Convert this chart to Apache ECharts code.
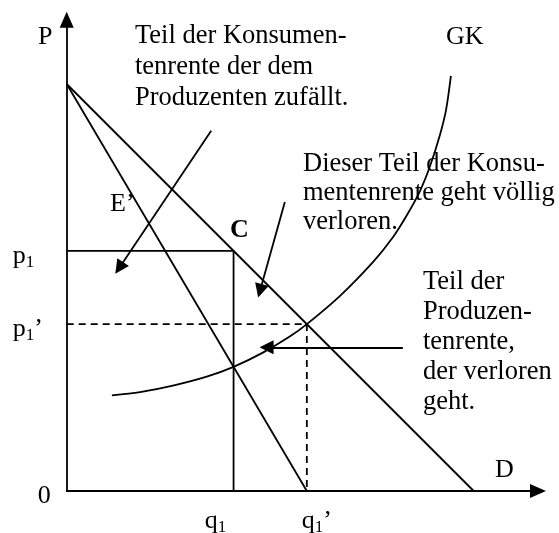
<!DOCTYPE html>
<html>
<head>
<meta charset="utf-8">
<script src="https://cdn.jsdelivr.net/npm/echarts@6/dist/echarts.min.js"></script>
<style>
  html, body { margin: 0; padding: 0; background: #fff; }
  #chart { width: 559px; height: 533px; }
</style>
</head>
<body>
<div id="chart"></div>
<script>
// Monopoly diagram: demand D, marginal revenue E', marginal cost GK (values in quantity/price units)
const demand = [[0, 100], [100, 0]];
const marginalRevenue = [[0, 100], [59, 0]];
const marginalCost = [
  [11.1, 23.5], [18.0, 24.3], [26.1, 25.9], [34.4, 28.1], [41.0, 30.5],
  [48.2, 34.0], [54.9, 38.0], [59.0, 41.0], [67.1, 47.9], [75.3, 56.3],
  [80.2, 62.4], [83.6, 67.8], [86.8, 73.7], [89.3, 79.9], [91.7, 87.5],
  [93.2, 93.6], [94.4, 102.0]
];
const q1 = 41;        // monopoly quantity
const p1 = 59;        // monopoly price (point C on D)
const q1Comp = 59;    // quantity where GK meets D
const p1Comp = 41;    // price where GK meets D
const axisMax = 115.8;

// annotation arrows: [from, to]
const arrows = [
  [[35.5, 88.5], [12.9, 54.8]],
  [[53.6, 71.0], [47.5, 49.2]],
  [[82.6, 35.3], [49.1, 35.3]]
];

const yTicks = [0, p1Comp, p1];
const xTicks = [q1, q1Comp];

const serif = '"Liberation Serif", "Times New Roman", serif';
const black = '#000';
const lineW = 1.8;
const textFont = '26.5px ' + serif;

const rich = {
  m: { fontFamily: serif, fontSize: 26, color: black, lineHeight: 30 },
  s: { fontFamily: serif, fontSize: 17, color: black, verticalAlign: 'bottom' },
  gap0: { width: 25 },
  gapR: { width: 36 },
  gapL: { width: 20 }
};

const chart = echarts.init(document.getElementById('chart'), null, { renderer: 'canvas' });

const solid = (data, extra) => Object.assign({
  type: 'line', data: data, showSymbol: false, symbol: 'none', silent: true,
  animation: false, z: 3,
  lineStyle: { color: black, width: lineW }
}, extra || {});

chart.setOption({
  animation: false,
  backgroundColor: '#fff',
  grid: { left: 66.7, bottom: 42, right: 21, top: 19.7, containLabel: false, outerBoundsMode: 'none' },
  xAxis: {
    type: 'value', min: 0, max: axisMax,
    splitLine: { show: false },
    axisTick: { show: false },
    axisLine: { onZero: false, lineStyle: { color: black, width: lineW }, symbol: ['none', 'triangle'], symbolSize: [14, 16] },
    axisLabel: {
      customValues: xTicks, margin: 15, rich: rich,
      formatter: v => v === q1 ? '{m|q}{s|1}{gapR|}' : '{gapL|}{m|q}{s|1}{m|’}'
    }
  },
  yAxis: {
    type: 'value', min: 0, max: axisMax,
    splitLine: { show: false },
    axisTick: { show: false },
    axisLine: { onZero: false, lineStyle: { color: black, width: lineW }, symbol: ['none', 'triangle'], symbolSize: [14, 16] },
    axisLabel: {
      customValues: yTicks, margin: 54, align: 'left', padding: [10, 0, 0, 0], rich: rich,
      formatter: v => v === 0 ? '{gap0|}{m|0}' : (v === p1 ? '{m|p}{s|1}' : '{m|p}{s|1}{m|’}')
    }
  },
  series: [
    solid(demand),
    solid(marginalRevenue),
    solid(marginalCost, { smooth: 0.3 }),
    solid([[0, p1], [q1, p1], [q1, 0]]),
    solid([[0, p1Comp], [q1Comp, p1Comp], [q1Comp, 0]], { lineStyle: { color: black, width: lineW, type: [7, 5] } }),
    {
      type: 'lines', coordinateSystem: 'cartesian2d', silent: true, z: 4,
      symbol: ['none', 'triangle'], symbolSize: 14,
      lineStyle: { color: black, width: lineW, opacity: 1, curveness: 0 },
      data: arrows.map(a => ({ coords: a }))
    }
  ],
  graphic: [
    { type: 'text', x: 38, y: 37, style: { text: 'P', font: '26px ' + serif, fill: black, textVerticalAlign: 'middle' } },
    { type: 'text', x: 135, y: 20.6, style: { text: 'Teil der Konsumen-\ntenrente der dem\nProduzenten zufällt.', font: textFont, fill: black, lineHeight: 31, textVerticalAlign: 'top' } },
    { type: 'text', x: 446, y: 37, style: { text: 'GK', font: '26px ' + serif, fill: black, textVerticalAlign: 'middle' } },
    { type: 'text', x: 303, y: 149.6, style: { text: 'Dieser Teil der Konsu-\nmentenrente geht völlig\nverloren.', font: textFont, fill: black, lineHeight: 29, textVerticalAlign: 'top' } },
    { type: 'text', x: 423, y: 267.1, style: { text: 'Teil der\nProduzen-\ntenrente,\nder verloren\ngeht.', font: textFont, fill: black, lineHeight: 30, textVerticalAlign: 'top' } },
    { type: 'text', x: 110, y: 204, style: { text: 'E’', font: '26px ' + serif, fill: black, textVerticalAlign: 'middle' } },
    { type: 'text', x: 230, y: 230, style: { text: 'C', font: 'bold 26px ' + serif, fill: black, textVerticalAlign: 'middle' } },
    { type: 'text', x: 495, y: 470, style: { text: 'D', font: '26px ' + serif, fill: black, textVerticalAlign: 'middle' } }
  ]
});
</script>
</body>
</html>
